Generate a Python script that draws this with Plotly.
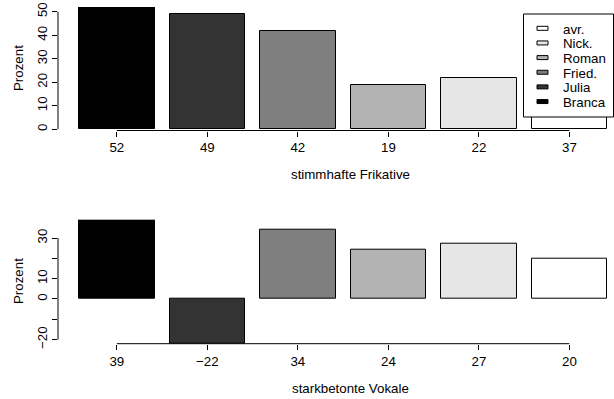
import plotly.graph_objects as go

# ---- data ----
speakers = ["Branca", "Julia", "Fried.", "Roman", "Nick.", "avr."]
fill_colors = ["#000000", "#333333", "#7f7f7f", "#b3b3b3", "#e6e6e6", "#ffffff"]
frik_values = [52, 49, 42, 19, 22, 37]
vokal_values = [39, -22, 34, 24, 27, 20]
frik_yticks = [0, 10, 20, 30, 40, 50]
frik_yticklabels = ["0", "10", "20", "30", "40", "50"]
vokal_yticks = [-20, -10, 0, 10, 20, 30]
vokal_yticklabels = ["\u221220", "", "0", "10", "", "30"]
title_top = "stimmhafte Frikative"
title_bottom = "starkbetonte Vokale"
ylabel = "Prozent"

W, H = 614, 399
ML = 58
FONT = "Liberation Sans, Arial, Helvetica, sans-serif"
FS = 13.3

centers = [0.7 + 1.2 * i for i in range(len(speakers))]
xr = [-0.08, -0.08 + (W - ML) / 75.43]


def lab(v):
    return str(v).replace("-", "\u2212")


def py(p):  # pixel y -> paper
    return 1 - p / H


def px(p):  # pixel x -> paper
    return (p - ML) / (W - ML)


fig = go.Figure()
fig.add_trace(go.Bar(x=centers, y=frik_values, width=1.0,
                     marker=dict(color=fill_colors, line=dict(color="black", width=1)),
                     xaxis="x", yaxis="y", showlegend=False, hoverinfo="y"))
fig.add_trace(go.Bar(x=centers, y=vokal_values, width=1.0,
                     marker=dict(color=fill_colors, line=dict(color="black", width=1)),
                     xaxis="x2", yaxis="y2", showlegend=False, hoverinfo="y"))

common_x = dict(range=xr, showgrid=False, zeroline=False, showline=False,
                ticks="outside", ticklen=5, tickwidth=1, tickcolor="black",
                tickmode="array", tickvals=centers, automargin=False,
                tickfont=dict(family=FONT, size=FS, color="black"))
common_y = dict(showgrid=False, zeroline=False, showline=False,
                ticks="outside", ticklen=5, tickwidth=1, tickcolor="black",
                tickmode="array", tickangle=-90, automargin=False,
                tickfont=dict(family=FONT, size=FS, color="black"))

fig.update_layout(
    width=W, height=H,
    margin=dict(l=ML, r=0, t=0, b=0),
    paper_bgcolor="white", plot_bgcolor="white",
    font=dict(family=FONT, size=FS, color="black"),
    showlegend=False,
    bargap=0,
    xaxis=dict(common_x, ticktext=[lab(v) for v in frik_values], anchor="y", domain=[0, 1]),
    yaxis=dict(common_y, range=[-0.52, 52], tickvals=frik_yticks, ticktext=frik_yticklabels,
               anchor="x", domain=[py(130.5), py(7.0)]),
    xaxis2=dict(common_x, ticktext=[lab(v) for v in vokal_values], anchor="y2", domain=[0, 1]),
    yaxis2=dict(common_y, range=[-22, 39], tickvals=vokal_yticks, ticktext=vokal_yticklabels,
                anchor="x2", domain=[py(343.7), py(219.7)]),
)

shapes = []
annotations = []
# R-style axis lines (from first to last tick)
for xa, ya, ticks in (("x", "y", frik_yticks), ("x2", "y2", vokal_yticks)):
    shapes.append(dict(type="line", xref=xa, yref=ya + " domain", x0=centers[0], x1=centers[-1],
                       y0=0, y1=0, line=dict(color="black", width=1)))
    shapes.append(dict(type="line", xref=xa + " domain", yref=ya, x0=0, x1=0,
                       y0=ticks[0], y1=ticks[-1], line=dict(color="black", width=1)))

# axis titles
xc = (xr[0] + (0.2 + 1.2 * len(speakers) + 0.28)) / 2
for text, ypix in ((title_top, 174), (title_bottom, 388)):
    annotations.append(dict(text=text, xref="x", yref="paper", x=xc, y=py(ypix),
                            xanchor="center", yanchor="middle", showarrow=False,
                            font=dict(family=FONT, size=FS, color="black")))
for ypix in (68.5, 281.5):
    annotations.append(dict(text=ylabel, xref="paper", yref="paper", x=px(18.5), y=py(ypix),
                            textangle=-90, xanchor="center", yanchor="middle", showarrow=False,
                            font=dict(family=FONT, size=FS, color="black")))

# legend box (top panel, drawn on top of bars)
shapes.append(dict(type="rect", xref="paper", yref="paper", x0=px(523.5), x1=px(613.5),
                   y0=py(117), y1=py(14), fillcolor="white", line=dict(color="black", width=1),
                   layer="above"))
leg_names = speakers[::-1]
leg_cols = fill_colors[::-1]
for i, (name, col) in enumerate(zip(leg_names, leg_cols)):
    yc = 29.3 + i * 14.65
    shapes.append(dict(type="rect", xref="paper", yref="paper", x0=px(537), x1=px(548),
                       y0=py(yc + 1.0), y1=py(yc - 3), fillcolor=col,
                       line=dict(color="black", width=1), layer="above"))
    annotations.append(dict(text=name, xref="paper", yref="paper", x=px(561), y=py(yc),
                            xanchor="left", yanchor="middle", showarrow=False,
                            font=dict(family=FONT, size=FS, color="black")))

fig.update_layout(shapes=shapes, annotations=annotations)
fig.write_html("out.html", config={"displayModeBar": False},
               post_script="document.body.style.margin='0';")
